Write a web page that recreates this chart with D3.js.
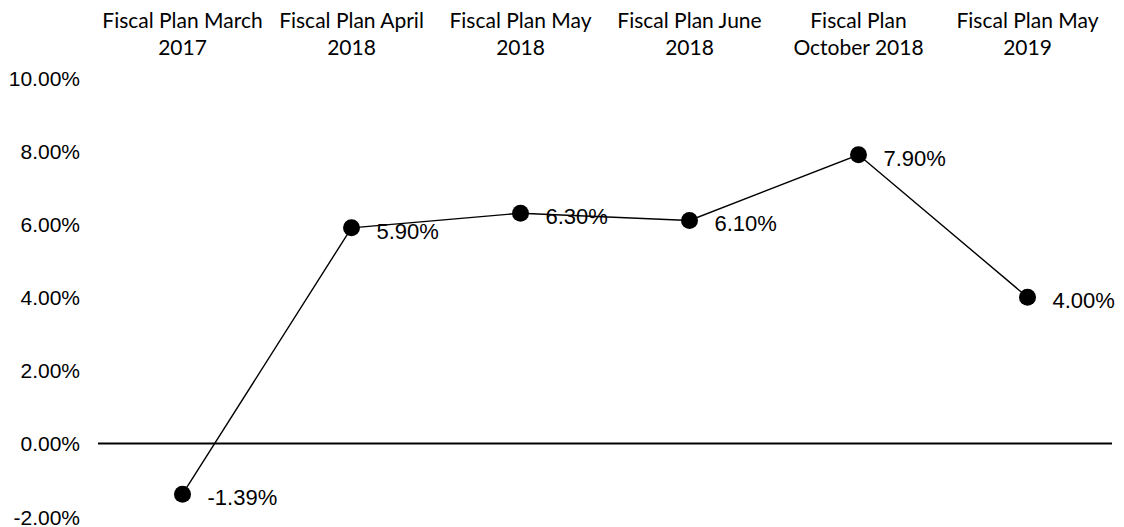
<!DOCTYPE html>
<html>
<head>
<meta charset="utf-8">
<script src="https://cdn.jsdelivr.net/npm/d3@7"></script>
<style>
  html, body { margin: 0; padding: 0; background: #fff; }
  svg { display: block; }
</style>
</head>
<body>
<svg id="chart" width="1124" height="527"></svg>
<script>
// Forecast growth by fiscal plan release
const categories = [
  "Fiscal Plan March 2017",
  "Fiscal Plan April 2018",
  "Fiscal Plan May 2018",
  "Fiscal Plan June 2018",
  "Fiscal Plan October 2018",
  "Fiscal Plan May 2019"
];
const categoryLabels = [
  ["Fiscal Plan March", "2017"],
  ["Fiscal Plan April", "2018"],
  ["Fiscal Plan May", "2018"],
  ["Fiscal Plan June", "2018"],
  ["Fiscal Plan", "October 2018"],
  ["Fiscal Plan May", "2019"]
];
const values = [-1.39, 5.90, 6.30, 6.10, 7.90, 4.00];
const yTicks = [-2, 0, 2, 4, 6, 8, 10];

const svg = d3.select("#chart");

const x = d3.scaleBand().domain(categories).range([98, 1112]).padding(0);
const y = d3.scaleLinear().domain([-2, 10]).range([516.5, 78]);
const cx = d => x(d) + x.bandwidth() / 2;
const fmt = v => v.toFixed(2) + "%";

const numFont = "'Liberation Sans', Arial, sans-serif";
const catFont = "Lato, 'Open Sans', sans-serif";

// Value axis labels (no axis line, no gridlines)
const yAxis = d3.axisLeft(y).tickValues(yTicks).tickFormat(fmt).tickSize(0).tickPadding(0);
const gy = svg.append("g").attr("transform", "translate(80,0)").call(yAxis);
gy.select(".domain").remove();
gy.selectAll("text")
  .attr("font-family", numFont)
  .attr("font-size", 21)
  .attr("fill", "#000")
  .attr("dy", "0.36em");

// Zero line
svg.append("line")
  .attr("x1", 98).attr("x2", 1112)
  .attr("y1", y(0)).attr("y2", y(0))
  .attr("stroke", "#000").attr("stroke-width", 2);

// Category labels along the top
const gx = svg.append("g");
categories.forEach((c, i) => {
  const t = gx.append("text")
    .attr("x", cx(c))
    .attr("y", 28)
    .attr("text-anchor", "middle")
    .attr("font-family", catFont)
    .attr("font-size", 21)
    .attr("fill", "#000");
  categoryLabels[i].forEach((line, j) => {
    t.append("tspan").attr("x", cx(c)).attr("dy", j === 0 ? 0 : 27).text(line);
  });
});

// Series line
const line = d3.line().x((d, i) => cx(categories[i])).y(d => y(d));
svg.append("path")
  .datum(values)
  .attr("d", line)
  .attr("fill", "none")
  .attr("stroke", "#000")
  .attr("stroke-width", 1.4);

// Markers
svg.append("g").selectAll("circle")
  .data(values)
  .join("circle")
  .attr("cx", (d, i) => cx(categories[i]))
  .attr("cy", d => y(d))
  .attr("r", 8.5)
  .attr("fill", "#000");

// Data labels
svg.append("g").selectAll("text")
  .data(values)
  .join("text")
  .attr("x", (d, i) => cx(categories[i]) + 25)
  .attr("y", d => y(d) + 3)
  .attr("dy", "0.36em")
  .attr("font-family", numFont)
  .attr("font-size", 22)
  .attr("fill", "#000")
  .text(fmt);
</script>
</body>
</html>
